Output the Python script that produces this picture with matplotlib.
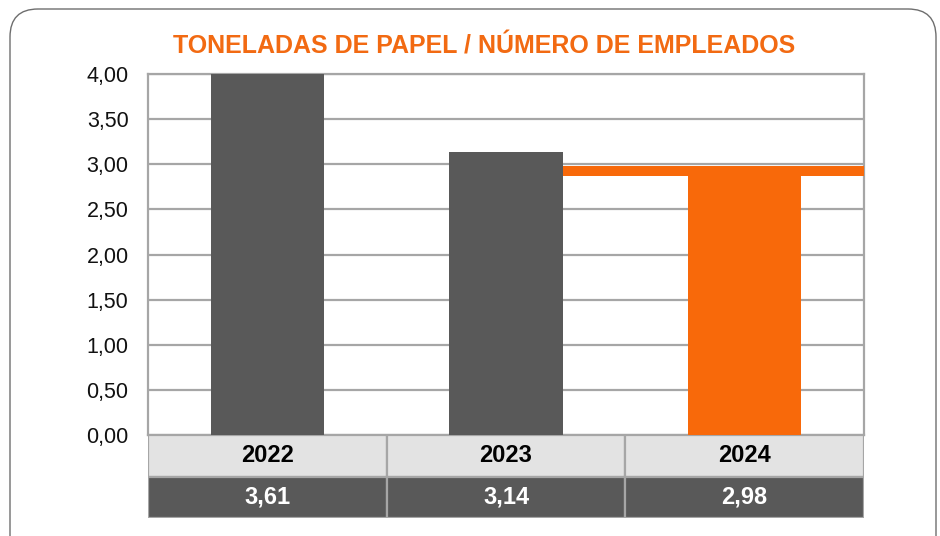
import matplotlib
matplotlib.use('Agg')
import matplotlib.pyplot as plt
from matplotlib.patches import Rectangle, FancyBboxPatch
from matplotlib.transforms import IdentityTransform

years = ['2022', '2023', '2024']
values = [3.61, 3.14, 2.98]
# heights as they appear drawn in the reference (2022 runs past the top)
drawn = [4.2, 3.14, 2.87]
band = (2.87, 2.98)
yticks = [0, 0.5, 1, 1.5, 2, 2.5, 3, 3.5, 4]

dark = '#595959'
orange = '#f8690a'
gridc = '#a6a6a6'
colors = [dark, dark, orange]
font = ['Liberation Sans', 'DejaVu Sans']

fig = plt.figure(figsize=(9.4, 5.36), dpi=100)
fig.add_artist(FancyBboxPatch((10, -40), 926, 567, boxstyle='round,pad=0,rounding_size=28',
                              transform=IdentityTransform(), fc='none', ec='#6e6e6e', lw=1))

ax = fig.add_axes([148 / 940, 101 / 536, 716 / 940, 361 / 536])
w = 0.475
x = list(range(len(years)))
ax.bar(x, drawn, width=w, color=colors, zorder=3)
ax.fill_between([1 + w / 2, 2.5], band[0], band[1], color=orange, lw=0, zorder=3)
ax.set_xlim(-0.5, 2.5)
ax.set_ylim(0, 4)
ax.set_yticks(yticks)
ax.set_yticklabels([f'{v:.2f}'.replace('.', ',') for v in yticks],
                   fontsize=15.5, family=font, color='#111111')
ax.tick_params(axis='y', length=0, pad=14)
ax.set_xticks([])
ax.grid(axis='y', color=gridc, lw=1.6, zorder=1)
for s in ax.spines.values():
    s.set_color(gridc)
    s.set_linewidth(1.6)

tab = fig.add_axes([148 / 940, 18 / 536, 716 / 940, 83 / 536])
tab.set_xlim(-0.5, 2.5)
tab.set_ylim(0, 2)
tab.axis('off')
for i, (yr, v) in enumerate(zip(years, values)):
    tab.add_patch(Rectangle((i - 0.5, 1), 1, 1, fc='#e3e3e3', ec=gridc, lw=1.6))
    tab.add_patch(Rectangle((i - 0.5, 0), 1, 1, fc=dark, ec=gridc, lw=1.6))
    tab.text(i, 1.5, yr, ha='center', va='center', fontsize=17, fontweight='bold',
             family=font, color='black')
    tab.text(i, 0.5, f'{v:.2f}'.replace('.', ','), ha='center', va='center', fontsize=17,
             fontweight='bold', family=font, color='white')

fig.text(484 / 940, 1 - 47 / 536, 'TONELADAS DE PAPEL / NÚMERO DE EMPLEADOS',
         ha='center', va='center', fontsize=18, fontweight='bold', family=font, color='#f26a12')

fig.savefig('out.png', dpi=100)
